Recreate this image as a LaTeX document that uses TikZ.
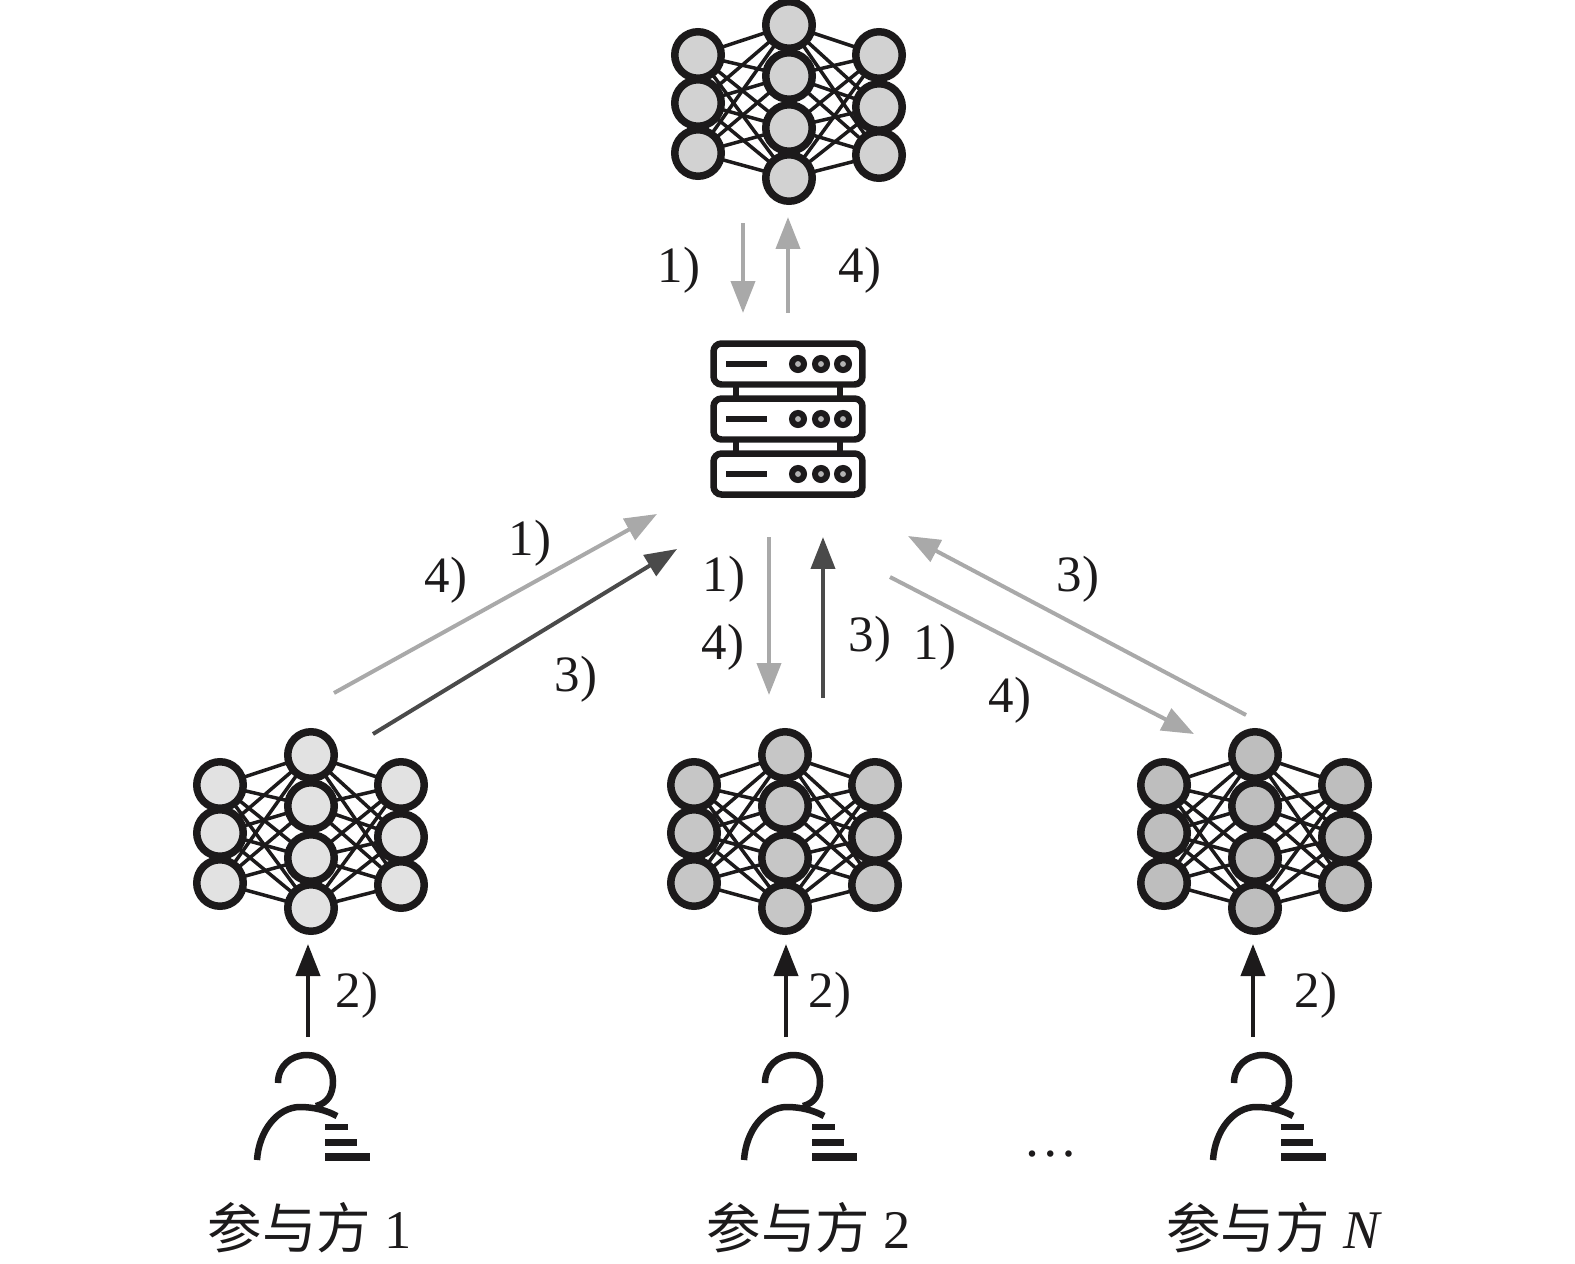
\documentclass[tikz,border=0pt]{standalone}
\usepackage{fontspec}
\setmainfont{Liberation Serif}
\newfontfamily\cjk{Noto Sans CJK SC}
\usetikzlibrary{arrows.meta,backgrounds}
\definecolor{topgray}{HTML}{D2D2D2}
\definecolor{lightgray}{HTML}{E2E2E2}
\definecolor{midgray}{HTML}{C6C6C6}
\definecolor{deepgray}{HTML}{BEBEBE}
\definecolor{arrowlight}{HTML}{A9A9A9}
\definecolor{arrowdark}{HTML}{4A4A4A}
\definecolor{inkblack}{HTML}{1C1A1B}
\tikzset{
  netpic/.pic={
    \foreach \n/\px/\py in {l1/-91/-47,l2/-91/1,l3/-91/51,m1/0/-77,m2/0/-26,m3/0/26,m4/0/76,r1/90/-47,r2/90/5,r3/90/53}
      \node[unit,fill=#1] (-\n) at (\px,\py) {};
    \begin{scope}[on background layer]
      \foreach \a in {l1,l2,l3,r1,r2,r3}
        \foreach \b in {m1,m2,m3,m4}
          \draw[link] (-\a.center)--(-\b.center);
    \end{scope}
  },
  userpic/.pic={
    \draw[figure] (-30,-77) .. controls (-30,-94) and (-17,-105) .. (-1,-105)
      .. controls (14,-105) and (25,-93) .. (25,-79)
      .. controls (25,-66) and (20,-57) .. (8,-54);
    \draw[figure] (-51,0) .. controls (-49,-30) and (-30,-53) .. (-8,-53)
      .. controls (5,-53) and (18,-50) .. (29,-44);
    \draw[line width=0.12cm,inkblack] (17,-33)--(40,-33);
    \draw[line width=0.14cm,inkblack] (17,-18)--(49,-18);
    \draw[line width=0.16cm,inkblack] (17,-3)--(62,-3);
  }
}
\begin{document}
\begin{tikzpicture}[x=0.02cm,y=-0.02cm,
  unit/.style={circle,draw=inkblack,line width=0.15cm,inner sep=0pt,minimum size=0.93cm},
  link/.style={draw=inkblack,line width=0.07cm},
  figure/.style={draw=inkblack,line width=0.13cm},
  rack/.style={rectangle,rounded corners=0.16cm,draw=inkblack,line width=0.13cm,fill=white,
               minimum width=2.98cm,minimum height=0.82cm,inner sep=0pt},
  led/.style={circle,draw=inkblack,line width=0.12cm,fill=white!70!black,inner sep=0pt,minimum size=0.24cm},
  flow/.style={-{Triangle[length=0.64cm,width=0.48cm]},line width=0.08cm},
  pale/.style={flow,draw=arrowlight,fill=arrowlight},
  dark/.style={flow,draw=arrowdark,fill=arrowdark},
  feed/.style={flow,draw=inkblack,fill=inkblack},
  step label/.style={inner sep=0pt,text=inkblack,font=\fontsize{29}{32}\selectfont},
  party/.style={inner sep=0pt,text=inkblack,font=\fontsize{31}{34}\selectfont}
]
\useasboundingbox (0,0) rectangle (1575,1264);
% networks
\pic (top) at (789,102) {netpic=topgray};
\pic (netA) at (311,832) {netpic=lightgray};
\pic (netB) at (785,832) {netpic=midgray};
\pic (netC) at (1255,832) {netpic=deepgray};
% server
\foreach \n/\ry in {1/364,2/419,3/474}{
  \node[rack] (rack\n) at (788,\ry) {};
  \draw[figure] (726,\ry)--(767,\ry);
  \foreach \m/\rx in {1/798,2/821,3/843}
    \node[led] (led\n\m) at (\rx,\ry) {};
}
\begin{scope}[on background layer]
  \draw[figure] (736,364)--(736,474);
  \draw[figure] (840,364)--(840,474);
\end{scope}
% free arrow ends
\coordinate (t1s) at (743,223); \coordinate (t1e) at (743,313);
\coordinate (t4s) at (788,313); \coordinate (t4e) at (788,217);
\coordinate (a4s) at (334,693); \coordinate (a4e) at (657,514);
\coordinate (a3s) at (373,734); \coordinate (a3e) at (677,549);
\coordinate (b1s) at (769,537); \coordinate (b1e) at (769,695);
\coordinate (b3s) at (823,698); \coordinate (b3e) at (823,537);
\coordinate (c1s) at (890,577); \coordinate (c1e) at (1194,734);
\coordinate (c3s) at (1246,715); \coordinate (c3e) at (908,536);
\coordinate (a2s) at (308,1037); \coordinate (a2e) at (308,944);
\coordinate (b2s) at (786,1037); \coordinate (b2e) at (786,944);
\coordinate (c2s) at (1253,1037); \coordinate (c2e) at (1253,944);
\draw[pale] (t1s)--(t1e);
\draw[pale] (t4s)--(t4e);
\draw[pale] (a4s)--(a4e);
\draw[dark] (a3s)--(a3e);
\draw[pale] (b1s)--(b1e);
\draw[dark] (b3s)--(b3e);
\draw[pale] (c1s)--(c1e);
\draw[pale] (c3s)--(c3e);
\draw[feed] (a2s)--(a2e);
\draw[feed] (b2s)--(b2e);
\draw[feed] (c2s)--(c2e);
% step labels
\node[step label] (lt1) at (679,270) {1)};
\node[step label] (lt4) at (860,270) {4)};
\node[step label] (la4) at (446,580) {4)};
\node[step label] (la1) at (530,543) {1)};
\node[step label] (la3) at (576,679) {3)};
\node[step label] (lb1) at (724,579) {1)};
\node[step label] (lb4) at (723,647) {4)};
\node[step label] (lb3) at (870,639) {3)};
\node[step label] (lc1) at (935,647) {1)};
\node[step label] (lc4) at (1010,700) {4)};
\node[step label] (lc3) at (1078,579) {3)};
\node[step label] (la2) at (357,995) {2)};
\node[step label] (lb2) at (830,995) {2)};
\node[step label] (lc2) at (1316,995) {2)};
% participants
\pic (userA) at (308,1160) {userpic};
\pic (userB) at (795,1160) {userpic};
\pic (userC) at (1264,1160) {userpic};
\node[party] (dots) at (1051,1154) {\dots};
\node[party] (nameA) at (310,1228) {{\cjk 参与方} 1};
\node[party] (nameB) at (809,1228) {{\cjk 参与方} 2};
\node[party] (nameC) at (1274,1228) {{\cjk 参与方} \textit{N}};
\end{tikzpicture}
\end{document}
